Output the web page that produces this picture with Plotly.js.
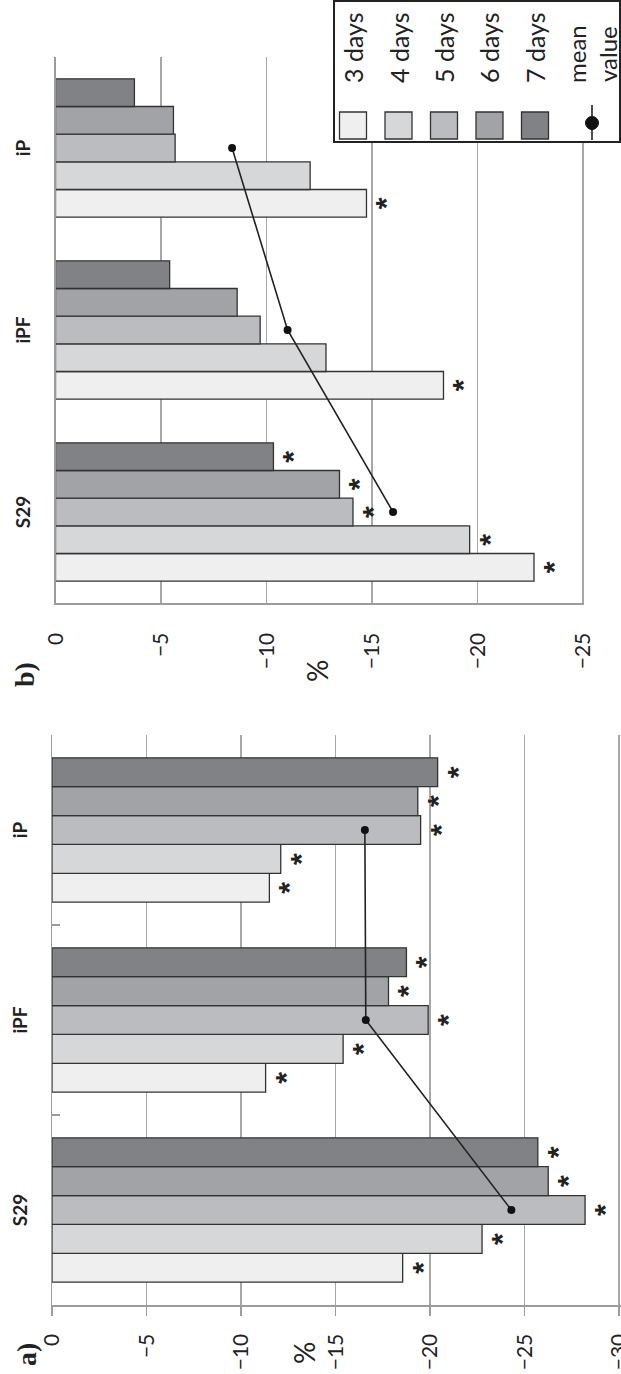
<!DOCTYPE html>
<html>
<head>
<meta charset="utf-8">
<script src="https://cdn.plot.ly/plotly-3.0.1.min.js"></script>
<style>
html,body{margin:0;padding:0;overflow:hidden;background:#fff;width:621px;height:1374px;}
#wrap{position:absolute;left:0;top:0;width:1374px;height:621px;transform-origin:0 0;transform:translate(0,1374px) rotate(-90deg);}
</style>
</head>
<body>
<div id="wrap"><div id="chart"></div></div>
<script>
// ---------- data ----------
const categories = ['S29', 'iPF', 'iP'];
const seriesNames = ['3 days', '4 days', '5 days', '6 days', '7 days'];
const meanName = 'mean<br>value';
const seriesColors = ['#efefef', '#d6d7d9', '#bbbcbf', '#a2a3a6', '#818285'];

// panel a)
const a3days = [-18.55, -11.3, -11.5];
const a4days = [-22.75, -15.4, -12.1];
const a5days = [-28.2, -19.9, -19.5];
const a6days = [-26.25, -17.8, -19.35];
const a7days = [-25.7, -18.75, -20.4];
const aMean  = [-24.3, -16.6, -16.55];
const aSig3 = [1, 1, 1], aSig4 = [1, 1, 1], aSig5 = [1, 1, 1], aSig6 = [1, 1, 1], aSig7 = [1, 1, 1];

// panel b)
const b3days = [-22.68, -18.39, -14.74];
const b4days = [-19.63, -12.82, -12.07];
const b5days = [-14.1, -9.7, -5.67];
const b6days = [-13.46, -8.61, -5.59];
const b7days = [-10.33, -5.41, -3.74];
const bMean  = [-16.0, -11.0, -8.37];
const bSig3 = [1, 1, 1], bSig4 = [1, 0, 0], bSig5 = [1, 0, 0], bSig6 = [1, 0, 0], bSig7 = [1, 0, 0];

const aTicks = [0, -5, -10, -15, -20, -25, -30];
const bTicks = [0, -5, -10, -15, -20, -25];

// ---------- build ----------
const W = 1374, H = 621;
const px = X => X / W;
const py = Y => (H - Y) / H;

const aVals = [a3days, a4days, a5days, a6days, a7days];
const aSigs = [aSig3, aSig4, aSig5, aSig6, aSig7];
const bVals = [b3days, b4days, b5days, b6days, b7days];
const bSigs = [bSig3, bSig4, bSig5, bSig6, bSig7];

const traces = [];
function addPanel(vals, sigs, mean, xa, ya) {
  vals.forEach((v, i) => {
    traces.push({
      type: 'bar', x: categories, y: v, name: seriesNames[i],
      xaxis: xa, yaxis: ya,
      marker: {color: seriesColors[i], line: {color: '#333', width: 1.3}},
      text: sigs[i].map(s => s ? '*' : ''),
      textposition: 'outside', textangle: 0, constraintext: 'none',
      cliponaxis: false,
      textfont: {size: 30, color: '#222', family: 'Liberation Sans', weight: 'bold'},
      hoverinfo: 'skip'
    });
  });
  traces.push({
    type: 'scatter', mode: 'lines+markers', x: categories, y: mean,
    name: 'mean value', xaxis: xa, yaxis: ya,
    line: {color: '#222', width: 1.6},
    marker: {color: '#111', size: 8},
    hoverinfo: 'skip', cliponaxis: false
  });
}
addPanel(aVals, aSigs, aMean, 'x', 'y');
addPanel(bVals, bSigs, bMean, 'x2', 'y2');

const axisGray = '#9c9c9c';
const gridGray = '#a8a8a8';

const shapes = [];
const annotations = [];

// custom legend (panel b)
shapes.push({type: 'rect', xref: 'paper', yref: 'paper',
  x0: px(1232), x1: px(1373), y0: py(334), y1: py(620),
  line: {color: '#222', width: 2}, fillcolor: '#ffffff', layer: 'above'});
seriesNames.forEach((n, i) => {
  const yc = 353 + i * 45.5;
  shapes.push({type: 'rect', xref: 'paper', yref: 'paper',
    x0: px(1235), x1: px(1262), y0: py(yc + 13.5), y1: py(yc - 13.5),
    line: {color: '#333', width: 1.3}, fillcolor: seriesColors[i], layer: 'above'});
  annotations.push({xref: 'paper', yref: 'paper', x: px(1289), y: py(yc),
    xanchor: 'left', yanchor: 'middle', text: n, showarrow: false,
    font: {size: 25, color: '#222', family: 'Lato'}});
});
const ym = 592;
shapes.push({type: 'line', xref: 'paper', yref: 'paper',
  x0: px(1234), x1: px(1269), y0: py(ym), y1: py(ym),
  line: {color: '#222', width: 1.6}, layer: 'above'});
shapes.push({type: 'circle', xref: 'paper', yref: 'paper',
  x0: px(1244.5), x1: px(1257.5), y0: py(ym + 6.5), y1: py(ym - 6.5),
  line: {color: '#111', width: 1}, fillcolor: '#111', layer: 'above'});
annotations.push({xref: 'paper', yref: 'paper', x: px(1289), y: py(ym),
  xanchor: 'left', yanchor: 'middle', text: meanName, showarrow: false,
  font: {size: 24, color: '#222', family: 'Lato'}});

// panel labels and % titles
annotations.push({xref: 'paper', yref: 'paper', x: px(19), y: py(27), xanchor: 'center', yanchor: 'middle',
  text: '<b>a)</b>', showarrow: false, font: {size: 28, color: '#222', family: 'Liberation Serif'}});
annotations.push({xref: 'paper', yref: 'paper', x: px(699), y: py(25), xanchor: 'center', yanchor: 'middle',
  text: '<b>b)</b>', showarrow: false, font: {size: 28, color: '#222', family: 'Liberation Serif'}});
annotations.push({xref: 'paper', yref: 'paper', x: px(21), y: py(304), xanchor: 'center', yanchor: 'middle',
  text: '%', showarrow: false, font: {size: 28, color: '#222', family: 'Lato'}});
annotations.push({xref: 'paper', yref: 'paper', x: px(703), y: py(317), xanchor: 'center', yanchor: 'middle',
  text: '%', showarrow: false, font: {size: 28, color: '#222', family: 'Lato'}});

const catFont = {size: 19, family: 'Lato', color: '#222', weight: 'bold'};
const valFont = {size: 21, family: 'Lato', color: '#222'};

const layout = {
  width: W, height: H,
  margin: {l: 0, r: 0, t: 0, b: 0},
  paper_bgcolor: '#ffffff', plot_bgcolor: 'rgba(0,0,0,0)',
  font: {family: 'Lato', color: '#222'},
  barmode: 'group', bargap: 0.24, bargroupgap: 0,
  showlegend: false,
  xaxis: {domain: [px(69), px(639)], anchor: 'y', side: 'top', type: 'category',
    showline: true, linecolor: axisGray, linewidth: 1.5,
    ticks: 'inside', tickson: 'boundaries', ticklen: 8, tickwidth: 1.5, tickcolor: axisGray,
    tickfont: catFont, ticklabelstandoff: 16, showgrid: false, fixedrange: true},
  yaxis: {domain: [0, py(52)], anchor: 'x', range: [-30.1, 0], tickvals: aTicks,
    showgrid: true, gridcolor: gridGray, gridwidth: 1.5, zeroline: false,
    showline: true, linecolor: axisGray, linewidth: 1.5,
    ticks: 'outside', ticklen: 9, tickwidth: 1.5, tickcolor: axisGray,
    tickfont: valFont, ticklabelstandoff: 14, ticklabeloverflow: 'allow', fixedrange: true},
  xaxis2: {domain: [px(771), px(1317)], anchor: 'y2', side: 'top', type: 'category',
    showline: true, linecolor: axisGray, linewidth: 1.5, ticks: '',
    tickfont: catFont, ticklabelstandoff: 16, showgrid: false, fixedrange: true},
  yaxis2: {domain: [py(584), py(55.5)], anchor: 'x2', range: [-25.05, 0], tickvals: bTicks,
    showgrid: true, gridcolor: gridGray, gridwidth: 1.5, zeroline: false,
    showline: true, linecolor: axisGray, linewidth: 1.5, ticks: '',
    tickfont: valFont, ticklabelstandoff: 24, fixedrange: true},
  shapes: shapes,
  annotations: annotations
};

Plotly.newPlot('chart', traces, layout, {displayModeBar: false, staticPlot: true});
</script>
</body>
</html>
